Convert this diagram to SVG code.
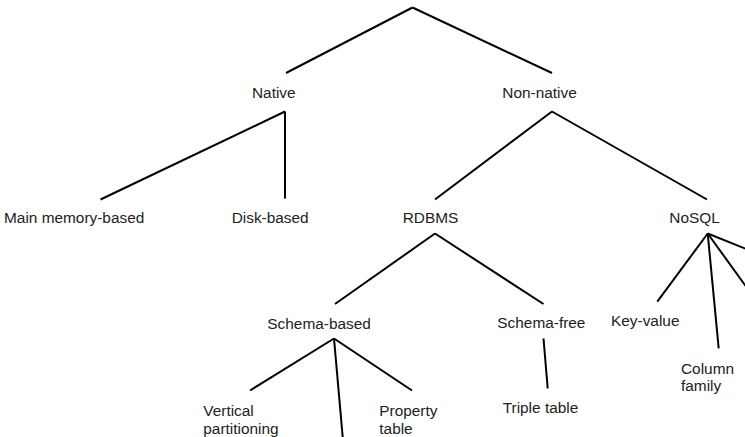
<svg xmlns="http://www.w3.org/2000/svg" width="745" height="437" viewBox="0 0 745 437">
<style>
.bg{fill:#ffffff}
.e{stroke:#000000;stroke-width:2;fill:none;stroke-linecap:butt}
.t{font-family:"Liberation Sans",Arial,sans-serif;font-size:15.4px;fill:#222222}
</style>
<rect class="bg" x="0" y="0" width="745" height="437"/>
<g id="connectors">
<line class="e" x1="412.5" y1="7.5" x2="286" y2="73"/>
<line class="e" x1="412.5" y1="7.5" x2="552" y2="73"/>
<line class="e" x1="285" y1="111.5" x2="100.5" y2="199.5"/>
<line class="e" x1="285" y1="111.5" x2="285" y2="198.5"/>
<line class="e" x1="552" y1="111.5" x2="435" y2="199.5"/>
<line class="e" x1="552" y1="111.5" x2="707" y2="199.5"/>
<line class="e" x1="435" y1="233.5" x2="335" y2="304"/>
<line class="e" x1="435" y1="233.5" x2="543.5" y2="304"/>
<line class="e" x1="334" y1="338.5" x2="250" y2="390.5"/>
<line class="e" x1="334" y1="338.5" x2="343.4" y2="445"/>
<line class="e" x1="334" y1="338.5" x2="412" y2="390.5"/>
<line class="e" x1="543.5" y1="338.5" x2="547.7" y2="388.5"/>
<line class="e" x1="707.7" y1="233.5" x2="657.3" y2="301.7"/>
<line class="e" x1="707.7" y1="233.5" x2="718.7" y2="348.3"/>
<line class="e" x1="707.7" y1="233.5" x2="760" y2="254.5"/>
<line class="e" x1="707.7" y1="233.5" x2="760" y2="305.9"/>
</g>
<g id="node-native"><text class="t" x="252" y="98">Native</text></g>
<g id="node-nonnative"><text class="t" x="502.3" y="98">Non-native</text></g>
<g id="node-mainmemory"><text class="t" x="4" y="223">Main memory-based</text></g>
<g id="node-disk"><text class="t" x="231.7" y="223">Disk-based</text></g>
<g id="node-rdbms"><text class="t" x="402.7" y="223">RDBMS</text></g>
<g id="node-nosql"><text class="t" x="669.3" y="223">NoSQL</text></g>
<g id="node-schemabased"><text class="t" x="267.3" y="329.3">Schema-based</text></g>
<g id="node-schemafree"><text class="t" x="497.3" y="327.8">Schema-free</text></g>
<g id="node-keyvalue"><text class="t" x="611" y="326.2">Key-value</text></g>
<g id="node-columnfamily"><text class="t" x="681" y="373.8">Column<tspan x="681" y="391">family</tspan></text></g>
<g id="node-vertical"><text class="t" x="203.3" y="416.3">Vertical<tspan x="203.3" y="433.5">partitioning</tspan></text></g>
<g id="node-property"><text class="t" x="379.3" y="416.3">Property<tspan x="379.3" y="433.5">table</tspan></text></g>
<g id="node-triple"><text class="t" x="502.7" y="412.8">Triple table</text></g>
</svg>
